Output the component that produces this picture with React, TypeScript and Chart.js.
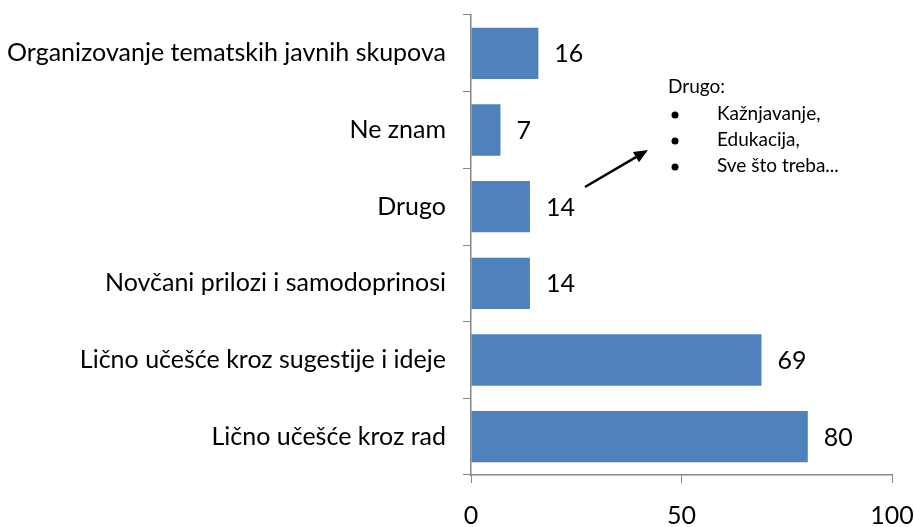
import React, { useEffect, useRef } from "react";
import { Chart, registerables } from "chart.js";

Chart.register(...registerables);

const categories = [
  "Organizovanje tematskih javnih skupova",
  "Ne znam",
  "Drugo",
  "Novčani prilozi i samodoprinosi",
  "Lično učešće kroz sugestije i ideje",
  "Lično učešće kroz rad",
];
const values = [16, 7, 14, 14, 69, 80];
const xTicks = [0, 50, 100];
const noteTitle = "Drugo:";
const noteItems = ["Kažnjavanje,", "Edukacija,", "Sve što treba..."];

const FONT = "Lato, 'Open Sans', sans-serif";

const noLigatures = {
  id: "noLigatures",
  beforeDraw(chart: any) {
    try {
      (chart.ctx as any).textRendering = "optimizeSpeed";
    } catch (e) {}
  },
};

const valueLabels = {
  id: "valueLabels",
  afterDatasetsDraw(chart: any) {
    const ctx = chart.ctx;
    const meta = chart.getDatasetMeta(0);
    ctx.save();
    ctx.font = `25px ${FONT}`;
    ctx.fillStyle = "#000";
    ctx.textAlign = "left";
    ctx.textBaseline = "middle";
    meta.data.forEach((bar: any, i: number) => {
      ctx.fillText(String(values[i]), bar.x + 16, bar.y + 1);
    });
    ctx.restore();
  },
};

const note = {
  id: "note",
  afterDraw(chart: any) {
    const ctx = chart.ctx;
    ctx.save();
    ctx.fillStyle = "#000";
    ctx.font = `19px ${FONT}`;
    ctx.textBaseline = "middle";
    ctx.textAlign = "left";
    ctx.fillText(noteTitle, 668, 87);
    noteItems.forEach((t, i) => {
      const y = 114 + i * 26;
      ctx.beginPath();
      ctx.arc(675, y + 1, 3.5, 0, Math.PI * 2);
      ctx.fill();
      ctx.fillText(t, 717, y);
    });
    // arrow
    const x1 = 585, y1 = 187, x2 = 648, y2 = 150;
    const ang = Math.atan2(y2 - y1, x2 - x1);
    const hl = 14, hw = 6;
    const bx = x2 - hl * Math.cos(ang);
    const by = y2 - hl * Math.sin(ang);
    ctx.strokeStyle = "#000";
    ctx.lineWidth = 2.5;
    ctx.beginPath();
    ctx.moveTo(x1, y1);
    ctx.lineTo(bx, by);
    ctx.stroke();
    ctx.beginPath();
    ctx.moveTo(x2, y2);
    ctx.lineTo(bx + hw * Math.sin(ang), by - hw * Math.cos(ang));
    ctx.lineTo(bx - hw * Math.sin(ang), by + hw * Math.cos(ang));
    ctx.closePath();
    ctx.fill();
    ctx.restore();
  },
};

export default function App() {
  const ref = useRef<HTMLCanvasElement>(null);
  useEffect(() => {
    if (!ref.current) return;
    const chart = new Chart(ref.current, {
      type: "bar",
      data: {
        labels: categories,
        datasets: [
          {
            data: values,
            backgroundColor: "#4F81BD",
            borderWidth: 0,
            categoryPercentage: 0.67,
            barPercentage: 1,
          },
        ],
      },
      plugins: [noLigatures, valueLabels, note],
      options: {
        indexAxis: "y",
        animation: false,
        responsive: false,
        maintainAspectRatio: false,
        layout: { padding: { top: 15, right: 22, left: 0, bottom: 0 } },
        plugins: {
          legend: { display: false },
          tooltip: { enabled: false },
        },
        scales: {
          x: {
            min: 0,
            max: 100,
            afterBuildTicks(scale: any) {
              scale.ticks = xTicks.map((v) => ({ value: v }));
            },
            afterFit(scale: any) {
              scale.height = 52;
              scale.paddingLeft = 0;
              scale.paddingRight = 0;
            },
            grid: {
              drawOnChartArea: false,
              drawTicks: true,
              tickLength: 8,
              color: "#868686",
            },
            border: { color: "#868686", width: 1.5 },
            ticks: {
              color: "#000",
              font: { family: FONT, size: 25 },
              padding: 18,
              maxRotation: 0,
            },
          },
          y: {
            afterFit(scale: any) {
              scale.width = 471;
              scale.paddingTop = 0;
              scale.paddingBottom = 0;
            },
            grid: {
              drawOnChartArea: false,
              drawTicks: true,
              tickLength: 8,
              color: "#868686",
              offset: true,
            },
            border: { color: "#868686", width: 1.5 },
            ticks: {
              color: "#000",
              font: { family: FONT, size: 25 },
              padding: 17,
              autoSkip: false,
            },
          },
        },
      },
    });
    return () => chart.destroy();
  }, []);
  return (
    <div style={{ position: "absolute", left: 0, top: 0, width: 914, height: 527, background: "#fff" }}>
      <canvas ref={ref} width={914} height={527} style={{ width: 914, height: 527 }} />
    </div>
  );
}
